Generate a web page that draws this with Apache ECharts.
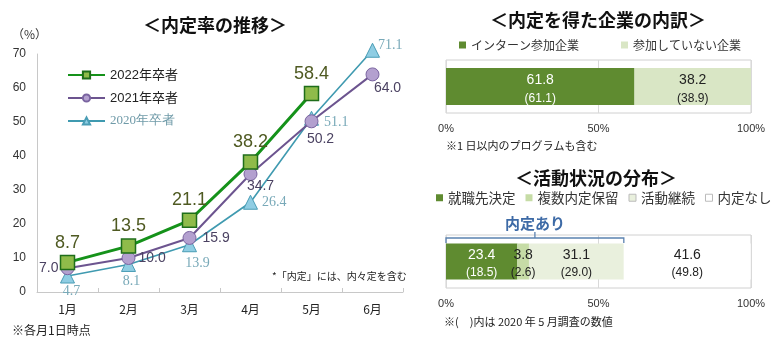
<!DOCTYPE html>
<html>
<head>
<meta charset="utf-8">
<script src="https://cdn.jsdelivr.net/npm/echarts@6/dist/echarts.min.js"></script>
<style>
  html, body { margin: 0; padding: 0; background: #fff; }
  #chart { width: 780px; height: 342px; }
</style>
</head>
<body>
<div id="chart"></div>
<script>
// 内定率の推移 (各月1日時点, %)
const months = ['1月', '2月', '3月', '4月', '5月', '6月'];
const rate2022 = [8.7, 13.5, 21.1, 38.2, 58.4, null];
const rate2021 = [7.0, 10.0, 15.9, 34.7, 50.2, 64.0];
const rate2020 = [4.7, 8.1, 13.9, 26.4, 51.1, 71.1];
const rateTicks = [0, 10, 20, 30, 40, 50, 60, 70];

// 内定を得た企業の内訳 (%), 括弧内は前年調査
const companyNames = ['インターン参加企業', '参加していない企業'];
const companyNow = [61.8, 38.2];
const companyPrev = [61.1, 38.9];

// 活動状況の分布 (%), 括弧内は2020年5月調査
const statusNames = ['就職先決定', '複数内定保留', '活動継続', '内定なし'];
const statusNow = [23.4, 3.8, 31.1, 41.6];
const statusPrev = [18.5, 2.6, 29.0, 49.8];
const percentTicks = [0, 50, 100];

const JP = '"Noto Sans CJK JP", sans-serif';
const NUM = '"Liberation Sans", "Noto Sans CJK JP", sans-serif';
const SERIF = '"Liberation Serif", "DejaVu Serif", serif';

// label placement for the two lower lines
const place2021 = [
  { position: 'left', distance: 2 },
  { position: 'right', distance: 3 },
  { position: 'right', distance: 6 },
  { position: 'bottom', distance: -2, offset: [10, 0] },
  { position: 'bottom', distance: 4, offset: [9, 0] },
  { position: 'bottom', distance: 0, offset: [15, 0] }
];
const place2020 = [
  { position: 'bottom', distance: 1, offset: [4, 0] },
  { position: 'bottom', distance: 2, offset: [3, 0] },
  { position: 'bottom', distance: 4, offset: [8, 0] },
  { position: 'right', distance: 4 },
  { position: 'right', distance: 5, offset: [0, 4] },
  { position: 'right', distance: -2, offset: [0, -5] }
];

function withLabels(values, places) {
  return values.map((v, i) => ({ value: v, label: places[i] }));
}

const chart = echarts.init(document.getElementById('chart'), null, { renderer: 'canvas' });

const titleStyle = { fontFamily: JP, fontSize: 18, fontWeight: 'bold', color: '#111' };

function barSeries(names, now, prev, colors, textColors, gridIdx, stackName, barW, lineH, shiftY) {
  return names.map((name, i) => ({
    name: name,
    type: 'bar',
    stack: stackName,
    xAxisIndex: gridIdx,
    yAxisIndex: gridIdx,
    barWidth: barW,
    itemStyle: { color: colors[i] },
    label: {
      show: true,
      position: 'inside',
      offset: [0, shiftY],
      formatter: () => '{a|' + now[i].toFixed(1) + '}\n{b|(' + prev[i].toFixed(1) + ')}',
      rich: {
        a: { fontFamily: NUM, fontSize: 14, lineHeight: lineH, color: textColors[i] },
        b: { fontFamily: NUM, fontSize: 12, lineHeight: lineH, color: textColors[i] }
      }
    },
    data: [now[i]]
  }));
}

const statusColors = ['#5f8b30', '#c6dca6', '#e9f0dd', '#ffffff'];
const companyColors = ['#5f8b30', '#d9e6c5'];

const pctAxis = (gridIndex) => ({
  type: 'value',
  gridIndex: gridIndex,
  min: 0, max: 100, interval: 50,
  axisLine: { show: false },
  axisTick: { show: false },
  splitLine: { show: true, lineStyle: { color: '#d9d9d9', width: 1 } },
  axisLabel: { formatter: '{value}%', fontFamily: NUM, fontSize: 11, color: '#333', margin: 10,
    customValues: percentTicks }
});
const catAxis = (gridIndex) => ({
  type: 'category', gridIndex: gridIndex, data: ['値'], show: false
});

const option = {
  backgroundColor: '#fff',
  animation: false,
  title: [
    { text: '＜内定率の推移＞', left: 138, top: 11, textStyle: titleStyle },
    { text: '＜内定を得た企業の内訳＞', left: 485, top: 6, textStyle: titleStyle },
    { text: '＜活動状況の分布＞', left: 510, top: 164, textStyle: titleStyle }
  ],
  legend: [
    {
      orient: 'vertical', left: 67, top: 67, padding: 0, itemWidth: 37, itemHeight: 9, itemGap: 7,
      selectedMode: false,
      textStyle: { fontFamily: NUM, fontSize: 13, color: '#222', lineHeight: 16 },
      data: [
        { name: '2022年卒者' },
        { name: '2021年卒者' },
        { name: '2020年卒者', textStyle: { fontFamily: SERIF, color: '#6f9aa8' } }
      ]
    },
    {
      left: 459, top: 39, padding: 0, itemWidth: 7, itemHeight: 7, itemGap: 42, icon: 'rect',
      selectedMode: false,
      textStyle: { fontFamily: JP, fontSize: 12, color: '#333' },
      data: companyNames
    },
    {
      left: 436, top: 191, padding: 0, width: 344, itemWidth: 7, itemHeight: 7, itemGap: 10, icon: 'rect',
      selectedMode: false,
      textStyle: { fontFamily: JP, fontSize: 13.5, color: '#333' },
      data: statusNames.map((n, i) => i >= 2
        ? { name: n, itemStyle: { borderColor: '#bbbbbb', borderWidth: 1 } }
        : { name: n })
    }
  ],
  graphic: [
    { type: 'text', left: 12, top: 28, style: { text: '（%）', font: '12px ' + JP, fill: '#333' } },
    { type: 'text', left: 12, top: 324, style: { text: '※各月1日時点', font: '12px ' + JP, fill: '#222' } },
    { type: 'text', left: 272, top: 271, style: { text: '*「内定」には、内々定を含む', font: '10px ' + JP, fill: '#222' } },
    { type: 'text', left: 446, top: 140, style: { text: '※1 日以内のプログラムも含む', font: '11px ' + JP, fill: '#222' } },
    { type: 'text', left: 444, top: 316, style: { text: '※(　)内は 2020 年 5 月調査の数値', font: '11px ' + JP, fill: '#222' } }
  ],
  grid: [
    { left: 37, right: 377, top: 54, bottom: 50 },
    { left: 446, right: 29, top: 60, height: 53, show: true, borderColor: '#d0d0d0', borderWidth: 1, backgroundColor: 'transparent' },
    { left: 446, right: 29, top: 235, height: 53, show: true, borderColor: '#d0d0d0', borderWidth: 1, backgroundColor: 'transparent' }
  ],
  xAxis: [
    {
      type: 'category', gridIndex: 0, data: months, boundaryGap: true,
      axisLine: { lineStyle: { color: '#c8c8c8', width: 1 } },
      axisTick: { show: true, inside: true, length: 4, lineStyle: { color: '#c8c8c8' } },
      axisLabel: { fontFamily: JP, fontSize: 12, color: '#222', margin: 11 }
    },
    pctAxis(1),
    pctAxis(2)
  ],
  yAxis: [
    {
      type: 'value', gridIndex: 0, min: 0, max: 70, interval: 10,
      axisLine: { show: true, lineStyle: { color: '#c8c8c8', width: 1 } },
      axisTick: { show: false },
      splitLine: { show: false },
      axisLabel: { fontFamily: NUM, fontSize: 12, color: '#333', margin: 11, customValues: rateTicks }
    },
    catAxis(1),
    catAxis(2)
  ],
  series: [
    {
      name: '2020年卒者', type: 'line', xAxisIndex: 0, yAxisIndex: 0, clip: false,
      symbol: 'triangle', symbolSize: 14,
      lineStyle: { color: '#3f9ab0', width: 1.6 },
      itemStyle: { color: '#8fcde3', borderColor: '#4a9db5', borderWidth: 1 },
      label: { show: true, fontFamily: SERIF, fontSize: 14, color: '#78a9b8', formatter: p => p.value.toFixed(1) },
      data: withLabels(rate2020, place2020),
      z: 3
    },
    {
      name: '2021年卒者', type: 'line', xAxisIndex: 0, yAxisIndex: 0, clip: false,
      symbol: 'circle', symbolSize: 13,
      lineStyle: { color: '#6c548f', width: 2 },
      itemStyle: { color: '#b3a0cf', borderColor: '#7a64a0', borderWidth: 1 },
      label: { show: true, fontFamily: NUM, fontSize: 14, color: '#4b4262', formatter: p => p.value.toFixed(1) },
      data: withLabels(rate2021, place2021),
      z: 4
    },
    {
      name: '2022年卒者', type: 'line', xAxisIndex: 0, yAxisIndex: 0, clip: false,
      symbol: 'rect', symbolSize: 14,
      lineStyle: { color: '#15921a', width: 3 },
      itemStyle: { color: '#8fbb4a', borderColor: '#1f6e1a', borderWidth: 1.5 },
      label: { show: true, position: 'top', distance: 3, fontFamily: NUM, fontSize: 18, color: '#4f5a22',
        formatter: p => p.value.toFixed(1) },
      data: rate2022,
      z: 5
    },
    ...barSeries(companyNames, companyNow, companyPrev, companyColors, ['#ffffff', '#222'], 1, 'company', 37, 19, 3),
    ...barSeries(statusNames, statusNow, statusPrev, statusColors, ['#ffffff', '#222', '#222', '#222'], 2, 'status', 36, 17, 2.5),
    {
      // bracket spanning the "内定あり" segments
      type: 'custom', xAxisIndex: 2, yAxisIndex: 2, silent: true, z: 10,
      data: [[statusNow[0] + statusNow[1] + statusNow[2], 0]],
      renderItem: (params, api) => {
        const a = api.coord([0, 0]);
        const b = api.coord([api.value(0), 0]);
        const band = api.size([0, 1])[1];
        const y = a[1] - band / 2 + 3;
        const xm = (a[0] + b[0]) / 2;
        const stroke = { stroke: '#5b82b0', lineWidth: 1.3, fill: null };
        return {
          type: 'group',
          children: [
            { type: 'polyline', shape: { points: [[a[0], y + 5], [a[0], y], [b[0], y], [b[0], y + 5]] }, style: stroke },
            { type: 'line', shape: { x1: xm, y1: y, x2: xm, y2: y - 6 }, style: stroke },
            { type: 'text', x: xm, y: y - 15, style: { text: '内定あり', fill: '#3d6aa6', font: 'bold 15px ' + JP, align: 'center', verticalAlign: 'middle' } }
          ]
        };
      }
    }
  ]
};

chart.setOption(option);
</script>
</body>
</html>
